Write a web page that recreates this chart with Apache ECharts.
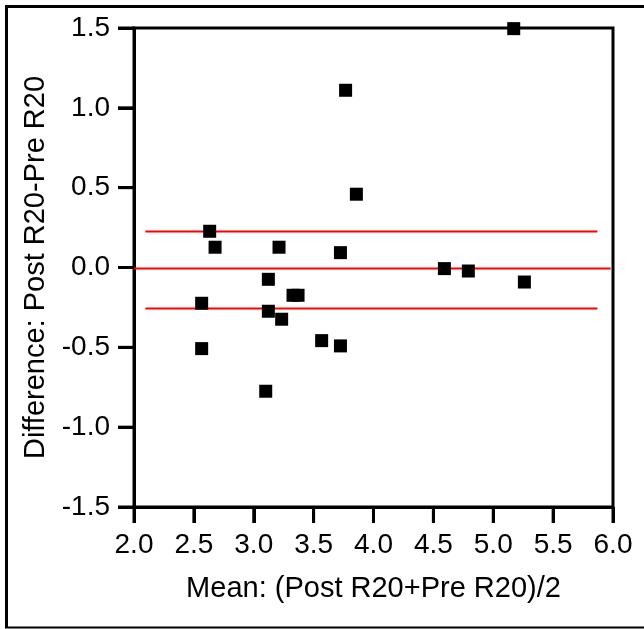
<!DOCTYPE html>
<html>
<head>
<meta charset="utf-8">
<title>Bland-Altman R20</title>
<script src="https://cdn.jsdelivr.net/npm/echarts@6/dist/echarts.min.js"></script>
<style>
  html, body { margin: 0; padding: 0; background: #fff; }
  #chart { width: 644px; height: 629px; }
</style>
</head>
<body>
<div id="chart"></div>
<script>
// mean of post/pre R20 (x) and their difference (y), one entry per subject
const meanVals = [2.632, 2.677, 3.211, 3.724, 3.122, 3.328, 3.370, 2.565, 3.122, 3.233,
  3.567, 3.724, 2.565, 3.100, 5.171, 4.592, 4.792, 5.260, 3.767, 3.857]
const diffVals = [0.227, 0.127, 0.127, 0.093, -0.074, -0.174, -0.174, -0.224, -0.274, -0.324,
  -0.458, -0.491, -0.508, -0.775, 1.496, -0.007, -0.022, -0.091, 1.110, 0.459]

// bias and limits of agreement, with the x range each red line covers
const upperLimit = [[2.095, 0.226], [5.87, 0.226]]
const biasLine = [[1.98, -0.006], [5.98, -0.006]]
const lowerLimit = [[2.095, -0.257], [5.87, -0.257]]

// tick values
const xTicks = [2.0, 2.5, 3.0, 3.5, 4.0, 4.5, 5.0, 5.5, 6.0]
const yTicks = [-1.5, -1.0, -0.5, 0.0, 0.5, 1.0, 1.5]

const xTitle = 'Mean: (Post R20+Pre R20)/2'
const yTitle = 'Difference: Post R20-Pre R20'

const points = meanVals.map((m, i) => [m, diffVals[i]])

const font = "'Liberation Sans', Arial, sans-serif"
const tickLen = 16
const myChart = echarts.init(document.getElementById('chart'))

const redLine = (name, data) => ({
  name: name,
  type: 'line',
  data: data,
  symbol: 'none',
  clip: false,
  silent: true,
  lineStyle: { color: '#ff0000', width: 2 },
  z: 3
})

const labelStyle = () => ({
  color: '#000',
  fontSize: 28,
  fontFamily: font,
  margin: 24,
  formatter: v => v.toFixed(1)
})
const axisTick = () => ({ show: true, length: tickLen, lineStyle: { color: '#000', width: 3 } })

// frame round the whole figure (cut off on the right)
const frame = [
  { id: 'fTop', type: 'line', shape: { x1: 5, y1: 6.5, x2: 644, y2: 6.5 }, style: { stroke: '#000', lineWidth: 3 } },
  { id: 'fLeft', type: 'line', shape: { x1: 6.5, y1: 5, x2: 6.5, y2: 628 }, style: { stroke: '#000', lineWidth: 3 } },
  { id: 'fBottom', type: 'line', shape: { x1: 5, y1: 627.5, x2: 644, y2: 627.5 }, style: { stroke: '#000', lineWidth: 2 } }
]

const option = {
  animation: false,
  backgroundColor: '#fff',
  grid: {
    left: 134,
    right: 31,
    top: 28,
    bottom: 122,
    show: true,
    borderColor: '#000',
    borderWidth: 3
  },
  graphic: frame,
  xAxis: {
    type: 'value',
    min: xTicks[0],
    max: xTicks[xTicks.length - 1],
    interval: 0.5,
    name: xTitle,
    nameLocation: 'middle',
    nameGap: 67,
    nameTextStyle: { color: '#000', fontSize: 29, fontFamily: font },
    axisLine: { show: true, onZero: false, lineStyle: { color: '#000', width: 3 } },
    axisTick: axisTick(),
    axisLabel: labelStyle(),
    splitLine: { show: false }
  },
  yAxis: {
    type: 'value',
    min: yTicks[0],
    max: yTicks[yTicks.length - 1],
    interval: 0.5,
    name: yTitle,
    nameLocation: 'middle',
    nameGap: 75,
    nameRotate: 90,
    nameTextStyle: { color: '#000', fontSize: 29, fontFamily: font },
    axisLine: { show: true, onZero: false, lineStyle: { color: '#000', width: 3 } },
    axisTick: axisTick(),
    axisLabel: labelStyle(),
    splitLine: { show: false }
  },
  series: [
    redLine('upper', upperLimit),
    redLine('bias', biasLine),
    redLine('lower', lowerLimit),
    {
      name: 'subjects',
      type: 'scatter',
      data: points,
      symbol: 'rect',
      symbolSize: 13,
      clip: false,
      itemStyle: { color: '#000', opacity: 1 },
      z: 4
    }
  ]
}
myChart.setOption(option)

// outward ticks again as plain lines, placed through the axes' own scales
function toPx (type, v) {
  const axis = myChart.getModel().getComponent(type, 0).axis
  return axis.toGlobalCoord(axis.dataToCoord(v))
}
try {
  const baseY = toPx('yAxis', yTicks[0])
  const baseX = toPx('xAxis', xTicks[0])
  const ticks = []
  xTicks.forEach((v, i) => {
    const x = toPx('xAxis', v)
    ticks.push({ id: 'xt' + i, type: 'line', z: 10, shape: { x1: x, y1: baseY, x2: x, y2: baseY + tickLen }, style: { stroke: '#000', lineWidth: 3 } })
  })
  yTicks.forEach((v, i) => {
    const y = toPx('yAxis', v)
    ticks.push({ id: 'yt' + i, type: 'line', z: 10, shape: { x1: baseX - tickLen, y1: y, x2: baseX, y2: y }, style: { stroke: '#000', lineWidth: 3 } })
  })
  if (ticks.every(t => isFinite(t.shape.x1) && isFinite(t.shape.y1))) {
    myChart.setOption({ graphic: frame.concat(ticks) })
  }
} catch (e) {
  console.log(e)
}
</script>
</body>
</html>
